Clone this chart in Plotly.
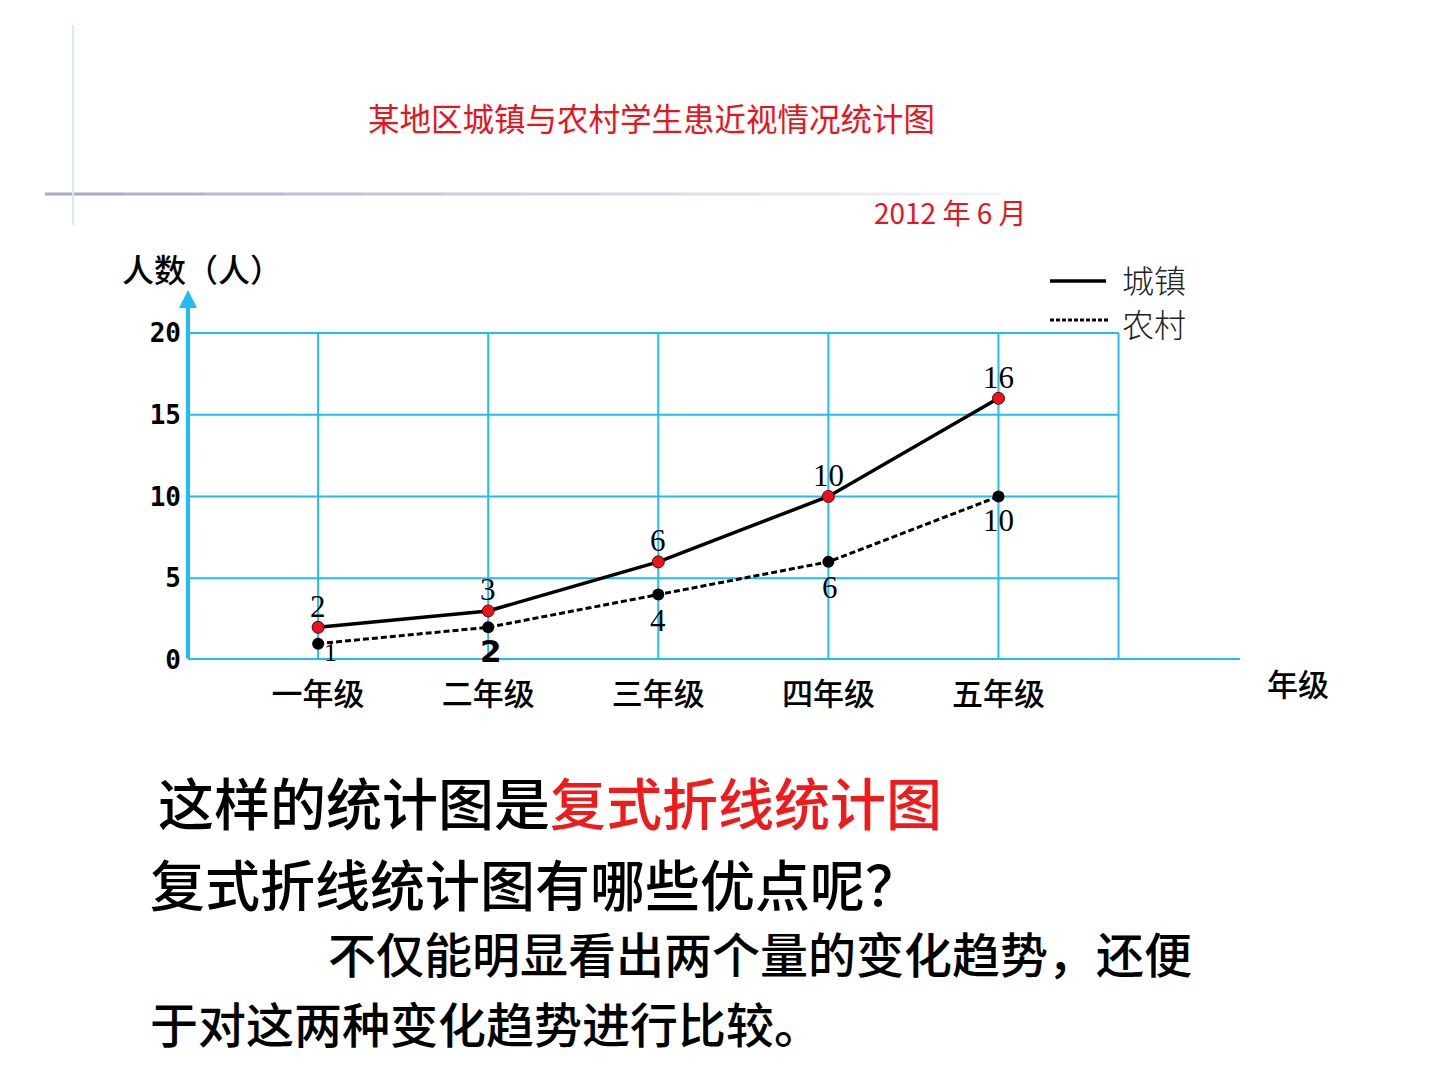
import plotly.graph_objects as go

# ---------------- data ----------------
grades = ["一年级", "二年级", "三年级", "四年级", "五年级"]
grade_pos = [1, 2, 3, 4, 5]
urban = [2, 3, 6, 10, 16]      # 城镇
rural = [1, 2, 4, 6, 10]       # 农村
y_ticks = [0, 5, 10, 15, 20]
y_tick_labels = ["0", "5", "10", "15", "20"]

title = "某地区城镇与农村学生患近视情况统计图"
date_text = "2012 年 6 月"

# ---------------- geometry helpers (plot area in pixels) ----------------
W, H = 1440, 1080
L, R = 188, 1240          # plot area left/right pixel
T, B = 258, 660           # plot area top/bottom pixel
X0, X1 = 0.235, 6.42      # x range
Y0, Y1 = 0, 24.58         # y range
GRID_X_END = 5.706

def px(xp):
    return (xp - L) / (R - L)

def py(yp):
    return (B - yp) / (B - T)

CYAN = "#1fbdf2"
CJK = "Noto Sans CJK SC"

fig = go.Figure()

# urban line
fig.add_trace(go.Scatter(
    x=grade_pos, y=urban, mode="lines+markers",
    line=dict(color="black", width=3.5),
    marker=dict(color="#e8141b", size=12, line=dict(color="#600", width=1)),
    showlegend=False, cliponaxis=False, name="城镇"))

# rural line
fig.add_trace(go.Scatter(
    x=grade_pos, y=rural, mode="lines+markers",
    line=dict(color="black", width=3, dash="6px,3px"),
    marker=dict(color="black", size=12),
    showlegend=False, cliponaxis=False, name="农村"))

shapes = []
# horizontal grid lines
for v in y_ticks[1:]:
    shapes.append(dict(type="line", xref="x", yref="y", x0=X0, x1=GRID_X_END, y0=v, y1=v,
                       line=dict(color=CYAN, width=2), layer="below"))
# vertical grid lines
for v in grade_pos + [GRID_X_END]:
    shapes.append(dict(type="line", xref="x", yref="y", x0=v, x1=v, y0=0, y1=y_ticks[-1],
                       line=dict(color=CYAN, width=2), layer="below"))
# x axis
shapes.append(dict(type="line", xref="x", yref="y", x0=X0, x1=X1, y0=0, y1=0,
                   line=dict(color=CYAN, width=4), layer="below"))

# legend (custom)
shapes.append(dict(type="line", xref="paper", yref="paper", x0=px(1050), x1=px(1106),
                   y0=py(281), y1=py(281), line=dict(color="black", width=3.5)))
shapes.append(dict(type="line", xref="paper", yref="paper", x0=px(1050), x1=px(1108),
                   y0=py(320), y1=py(320), line=dict(color="black", width=3, dash="4px,2px")))

# decorative slide lines
seg_n = 12
for i in range(seg_n):
    xa = 45 + i * (1000 - 45) / seg_n
    xb = 45 + (i + 1) * (1000 - 45) / seg_n
    shapes.append(dict(type="line", xref="paper", yref="paper", x0=px(xa), x1=px(xb),
                       y0=py(194), y1=py(194),
                       line=dict(color="#9aa6c0", width=3), opacity=0.85 * (1 - i / seg_n) + 0.05))
shapes.append(dict(type="line", xref="paper", yref="paper", x0=px(73), x1=px(73),
                   y0=py(25), y1=py(225), line=dict(color="#d6ebf6", width=2)))

annotations = [
    # y axis with arrow
    dict(text="", x=X0, y=py(290) * Y1, xref="x", yref="y", ax=X0, ay=0, axref="x", ayref="y",
         showarrow=True, arrowhead=2, arrowsize=0.9, arrowwidth=4, arrowcolor=CYAN, standoff=0),
    dict(text=title, x=px(651), y=py(117), xref="paper", yref="paper", showarrow=False,
         font=dict(family=CJK, size=31.5, color="#e8141b"), xanchor="center", yanchor="middle"),
    dict(text=date_text, x=px(950), y=py(212), xref="paper", yref="paper", showarrow=False,
         font=dict(family=CJK, size=28, color="#e8141b"), xanchor="center", yanchor="middle"),
    dict(text="人数（人）", x=px(120), y=py(268), xref="paper", yref="paper", showarrow=False,
         font=dict(family=CJK, size=32, color="black", weight=500), xanchor="left", yanchor="middle"),
    dict(text="年级", x=px(1298), y=py(682), xref="paper", yref="paper", showarrow=False,
         font=dict(family=CJK, size=31, color="black", weight=500), xanchor="center", yanchor="middle"),
    dict(text="城镇", x=px(1120), y=py(279), xref="paper", yref="paper", showarrow=False,
         font=dict(family=CJK, size=32, color="#222", weight=300), xanchor="left", yanchor="middle"),
    dict(text="农村", x=px(1120), y=py(323), xref="paper", yref="paper", showarrow=False,
         font=dict(family=CJK, size=32, color="#222", weight=300), xanchor="left", yanchor="middle"),
    dict(text="这样的统计图是<span style='color:#f01a1a'>复式折线统计图</span>",
         x=px(156), y=py(800), xref="paper", yref="paper", showarrow=False,
         font=dict(family=CJK, size=56, color="black", weight=500), xanchor="left", yanchor="middle"),
    dict(text="复式折线统计图有哪些优点呢？",
         x=px(148), y=py(882), xref="paper", yref="paper", showarrow=False,
         font=dict(family=CJK, size=55, color="black", weight=500), xanchor="left", yanchor="middle"),
    dict(text="不仅能明显看出两个量的变化趋势，还便",
         x=px(326), y=py(952), xref="paper", yref="paper", showarrow=False,
         font=dict(family=CJK, size=48, color="black", weight=500), xanchor="left", yanchor="middle"),
    dict(text="于对这两种变化趋势进行比较。",
         x=px(148), y=py(1022), xref="paper", yref="paper", showarrow=False,
         font=dict(family=CJK, size=48, color="black", weight=500), xanchor="left", yanchor="middle"),
]

# data labels: urban above points
for xv, yv in zip(grade_pos, urban):
    annotations.append(dict(text=str(yv), x=xv, y=yv, xref="x", yref="y", showarrow=False,
                            yshift=21, xanchor="center", yanchor="middle",
                            font=dict(family="Liberation Serif", size=31, color="black")))
# data labels: rural below points
rural_xshift = [12, 3, 0, 2, 0]
rural_yshift = [-9, -24, -26, -26, -24]
rural_font = ["Liberation Serif", "DejaVu Sans", "Liberation Serif", "Liberation Serif", "Liberation Serif"]
rural_size = [26, 31, 31, 31, 31]
rural_weight = ["normal", "bold", "normal", "normal", "normal"]
for i, (xv, yv) in enumerate(zip(grade_pos, rural)):
    annotations.append(dict(text=str(yv), x=xv, y=yv, xref="x", yref="y", showarrow=False,
                            xshift=rural_xshift[i], yshift=rural_yshift[i],
                            xanchor="center", yanchor="middle",
                            font=dict(family=rural_font[i], size=rural_size[i],
                                      weight=rural_weight[i], color="black")))

fig.update_layout(
    width=W, height=H,
    margin=dict(l=L, r=W - R, t=T, b=H - B, pad=0),
    paper_bgcolor="white", plot_bgcolor="white",
    showlegend=False, hovermode=False,
    shapes=shapes, annotations=annotations,
    xaxis=dict(range=[X0, X1], tickvals=grade_pos, ticktext=grades,
               showgrid=False, zeroline=False, showline=False, ticks="",
               tickfont=dict(family=CJK, size=31, color="black", weight=500),
               ticklabelstandoff=13, fixedrange=True),
    yaxis=dict(range=[Y0, Y1], tickvals=y_ticks, ticktext=y_tick_labels,
               showgrid=False, zeroline=False, showline=False, ticks="",
               tickfont=dict(family="DejaVu Sans Mono", size=26, color="black", weight="bold"),
               ticklabelstandoff=6, fixedrange=True),
)

fig.write_html("out.html", config={"displayModeBar": False})
